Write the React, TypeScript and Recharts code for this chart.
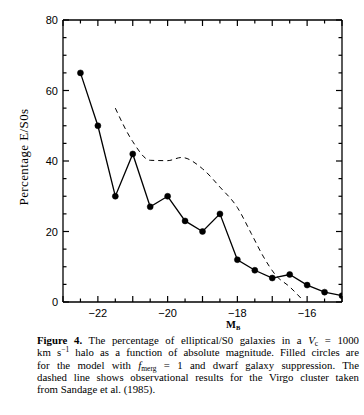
import React from "react";
import { LineChart, Line, XAxis, YAxis } from "recharts";

// model with f_merg = 1 and dwarf suppression (filled circles)
const modelMag = [-22.5, -22, -21.5, -21, -20.5, -20, -19.5, -19, -18.5, -18, -17.5, -17, -16.5, -16, -15.5, -15];
const modelPct = [65, 50, 30, 42, 27, 30, 23, 20, 25, 12, 9, 6.8, 7.8, 4.8, 2.8, 1.8];

// Virgo cluster, Sandage et al. (1985) (dashed)
const virgoMag = [-21.5, -21, -20.5, -20, -19.6, -19, -18.5, -18, -17.6, -17.25, -16.9, -16.5, -16.15];
const virgoPct = [55, 45.5, 40.2, 40.1, 41, 37.8, 32.6, 26.8, 19.4, 12.8, 7.6, 4.3, 0.8];

const xTicks = [-23, -22.5, -22, -21.5, -21, -20.5, -20, -19.5, -19, -18.5, -18, -17.5, -17, -16.5, -16, -15.5, -15];
const xLabels = [-22, -20, -18, -16];
const yTicks = [0, 5, 10, 15, 20, 25, 30, 35, 40, 45, 50, 55, 60, 65, 70, 75, 80];
const yLabels = [0, 20, 40, 60, 80];

const xDomain = [-23, -15];
const yDomain = [0, 80];

const model = modelMag.map((m, i) => ({ m, p: modelPct[i] }));
const virgo = virgoMag.map((m, i) => ({ m, p: virgoPct[i] }));

const W = 364;
const H = 332;
const margin = { top: 20, right: 22, left: 23, bottom: 0 };
const yAxisW = 40;
const xAxisH = 30;
// plot box, derived from the chart margins above
const plot = {
  left: margin.left + yAxisW,
  right: W - margin.right,
  top: margin.top,
  bottom: H - margin.bottom - xAxisH,
};

const sans = "'Liberation Sans', Arial, sans-serif";
const serif = "'Liberation Serif', 'Times New Roman', serif";

const fmt = (v: number) => (v < 0 ? "\u2212" + Math.abs(v) : String(v));
const xLen = (v: number) => (Number.isInteger(v) ? 6 : 3.5);
const yLen = (v: number) => (v % 20 === 0 ? 6 : 3.5);

const BottomTick = (props: any) => {
  const { x, y, payload } = props;
  const v = payload.value;
  return (
    <g>
      <line x1={x} y1={y} x2={x} y2={y - xLen(v)} stroke="#000" strokeWidth={1.2} />
      {xLabels.includes(v) && (
        <text x={x} y={y + 15} textAnchor="middle" fontFamily={sans} fontSize={11} fill="#000">
          {fmt(v)}
        </text>
      )}
    </g>
  );
};

const LeftTick = (props: any) => {
  const { x, y, payload } = props;
  const v = payload.value;
  return (
    <g>
      <line x1={x} y1={y} x2={x + yLen(v)} y2={y} stroke="#000" strokeWidth={1.2} />
      {yLabels.includes(v) && (
        <text x={x - 5} y={y + 4} textAnchor="end" fontFamily={sans} fontSize={11} fill="#000">
          {v}
        </text>
      )}
    </g>
  );
};

// top and right edges of the box with their inward ticks
function FrameOverlay() {
  const px = (v: number) => plot.left + ((v - xDomain[0]) / (xDomain[1] - xDomain[0])) * (plot.right - plot.left);
  const py = (v: number) => plot.bottom - ((v - yDomain[0]) / (yDomain[1] - yDomain[0])) * (plot.bottom - plot.top);
  return (
    <svg width={W} height={H} style={{ position: "absolute", left: 0, top: 0, pointerEvents: "none" }}>
      <line x1={plot.left} y1={plot.top} x2={plot.right} y2={plot.top} stroke="#000" strokeWidth={1.3} />
      <line x1={plot.right} y1={plot.top} x2={plot.right} y2={plot.bottom} stroke="#000" strokeWidth={1.3} />
      {xTicks.map((v) => (
        <line key={"t" + v} x1={px(v)} y1={plot.top} x2={px(v)} y2={plot.top + xLen(v)} stroke="#000" strokeWidth={1.2} />
      ))}
      {yTicks.map((v) => (
        <line key={"r" + v} x1={plot.right} y1={py(v)} x2={plot.right - yLen(v)} y2={py(v)} stroke="#000" strokeWidth={1.2} />
      ))}
    </svg>
  );
}

const lineStyle = { display: "block", textAlign: "justify" as const, textAlignLast: "justify" as const, whiteSpace: "nowrap" as const };
const sub = { fontSize: 7.5, position: "relative" as const, top: 2, lineHeight: 0 };
const sup = { fontSize: 7.5, position: "relative" as const, top: -4, lineHeight: 0 };

export default function App() {
  return (
    <div style={{ position: "absolute", left: 0, top: 0, width: 364, height: 415, background: "#fff" }}>
      <LineChart width={W} height={H} margin={margin}>
        <XAxis
          dataKey="m"
          type="number"
          domain={xDomain}
          ticks={xTicks}
          interval={0}
          allowDataOverflow
          height={xAxisH}
          tickSize={0}
          tickMargin={0}
          tickLine={false}
          tick={<BottomTick />}
          axisLine={{ stroke: "#000", strokeWidth: 1.3 }}
          label={{
            content: (p: any) => {
              const vb = p.viewBox;
              return (
                <text x={vb.x + vb.width * 0.61} y={vb.y + 26} textAnchor="middle" fontFamily={serif} fontWeight="bold" fontSize={10.5} fill="#000">
                  M<tspan fontSize={6.5} dy={2}>B</tspan>
                </text>
              );
            },
          }}
        />
        <YAxis
          type="number"
          domain={yDomain}
          ticks={yTicks}
          interval={0}
          allowDataOverflow
          width={yAxisW}
          tickSize={0}
          tickMargin={0}
          tickLine={false}
          tick={<LeftTick />}
          axisLine={{ stroke: "#000", strokeWidth: 1.3 }}
          label={{
            content: (p: any) => {
              const vb = p.viewBox;
              const cx = vb.x;
              const cy = vb.y + vb.height / 2 - 4;
              return (
                <text x={cx} y={cy} transform={`rotate(-90, ${cx}, ${cy})`} textAnchor="middle" dominantBaseline="central" fontFamily={serif} fontSize={13} letterSpacing={0.4} fill="#000">
                  Percentage  E/S0s
                </text>
              );
            },
          }}
        />
        <Line
          data={virgo}
          dataKey="p"
          type="monotone"
          stroke="#000"
          strokeWidth={1}
          strokeDasharray="5 4"
          dot={false}
          isAnimationActive={false}
        />
        <Line
          data={model}
          dataKey="p"
          type="linear"
          stroke="#000"
          strokeWidth={1.3}
          dot={{ r: 3, fill: "#000", stroke: "#000", strokeWidth: 0.5 }}
          isAnimationActive={false}
        />
      </LineChart>
      <FrameOverlay />
      <div style={{ position: "absolute", left: 37, top: 334, width: 322, fontFamily: serif, fontSize: 10.8, lineHeight: "12.3px", color: "#000" }}>
        <span style={lineStyle}>
          <b>Figure 4.</b> The percentage of elliptical/S0 galaxies in a <i>V</i><span style={sub}>c</span> = 1000
        </span>
        <span style={lineStyle}>
          km s<span style={sup}>−1</span> halo as a function of absolute magnitude. Filled circles are
        </span>
        <span style={lineStyle}>
          for the model with <i>f</i><span style={sub}>merg</span> = 1 and dwarf galaxy suppression. The
        </span>
        <span style={lineStyle}>dashed line shows observational results for the Virgo cluster taken</span>
        <span style={{ display: "block" }}>from Sandage et al. (1985).</span>
      </div>
    </div>
  );
}
